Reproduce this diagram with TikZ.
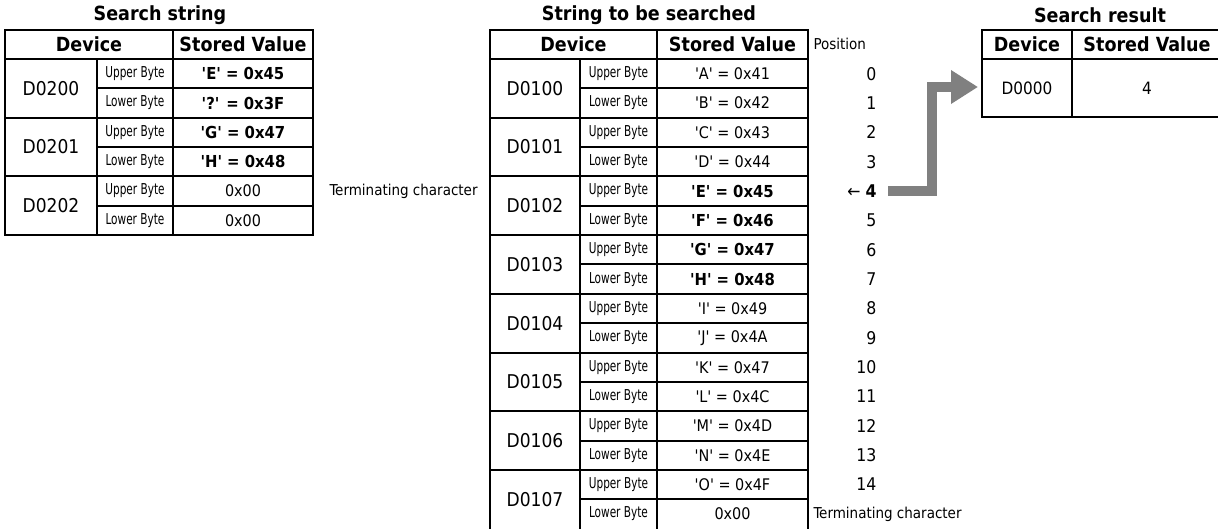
\documentclass[tikz,border=0pt]{standalone}
\usepackage{fontspec}
\setmainfont{DejaVu Sans Condensed}
\usepackage{graphicx}
\usetikzlibrary{arrows.meta}

\newcommand{\qch}[1]{\textquotesingle#1\textquotesingle}
\newcommand{\bytelabel}[1]{\scalebox{0.78}[1]{#1}}

\tikzset{
    tabline/.style={line width=2pt},
    rescell/.style={draw,line width=2pt,outer sep=0pt,inner sep=0pt},
    tabtitle/.style={font=\fontsize{19.5}{22}\selectfont\bfseries},
    headtxt/.style={font=\fontsize{19.5}{22}\selectfont\bfseries},
    devtxt/.style={font=\fontsize{19}{22}\selectfont},
    valtxt/.style={font=\fontsize{16}{19}\selectfont},
    bvaltxt/.style={font=\fontsize{16.5}{19}\selectfont\bfseries},
    bytetxt/.style={font=\fontsize{15}{17}\selectfont},
    sidenote/.style={font=\fontsize{15}{18}\selectfont},
    posnum/.style={font=\fontsize{17.5}{20}\selectfont},
    hitarrow/.style={line width=10pt,color=gray,-{Triangle[width=32pt,length=27pt]}}
}

\begin{document}
\begin{tikzpicture}[x=1pt,y=-1pt]
        \useasboundingbox (0,0) rectangle (1218,529);
        % Search string
            \node[tabtitle] (stitle) at (160,15) {Search string};
            \draw[tabline] (5,30) rectangle (313,235.1);
            \draw[tabline] (5,59) -- (313,59);
            \draw[tabline] (97,59) -- (97,235.1);
            \draw[tabline] (173,30) -- (173,235.1);
            \foreach \r in {1,3,5} \draw[tabline] (97,{59+\r*29.35}) -- (313,{59+\r*29.35});
            \foreach \r in {2,4} \draw[tabline] (5,{59+\r*29.35}) -- (313,{59+\r*29.35});
            \node[headtxt] (sdevh) at (89,44.5) {Device};
            \node[headtxt] (svalh) at (243,44.5) {Stored Value};
            \foreach \d [count=\k from 0] in {D0200,D0201,D0202}
                \node[devtxt] (sd\k) at (51,{59+(2*\k+1)*29.35}) {\d};
            \foreach \r in {0,2,4}
                \node[bytetxt] (su\r) at (135,{59+(\r+0.5)*29.35}) {\bytelabel{Upper Byte}};
            \foreach \r in {1,3,5}
                \node[bytetxt] (sl\r) at (135,{59+(\r+0.5)*29.35}) {\bytelabel{Lower Byte}};
            \foreach \r/\s/\v in {0/bvaltxt/{\qch{E} = 0x45},1/bvaltxt/{\qch{?} = 0x3F},
                                  2/bvaltxt/{\qch{G} = 0x47},3/bvaltxt/{\qch{H} = 0x48},
                                  4/valtxt/{0x00},5/valtxt/{0x00}}
                \node[\s] (sv\r) at (243,{59+(\r+0.5)*29.35}) {\v};
            \node[sidenote,anchor=west] (sterm) at (326,{59+4.5*29.35}) {Terminating character};
        % String to be searched
            \node[tabtitle] (ttitle) at (649,15) {String to be searched};
            \draw[tabline] (490,532) -- (490,30) -- (808,30) -- (808,532);
            \draw[tabline] (490,59) -- (808,59);
            \draw[tabline] (580,59) -- (580,532);
            \draw[tabline] (657,30) -- (657,532);
            \foreach \r in {1,3,...,15} \draw[tabline] (580,{59+\r*29.35}) -- (808,{59+\r*29.35});
            \foreach \r in {2,4,...,14} \draw[tabline] (490,{59+\r*29.35}) -- (808,{59+\r*29.35});
            \node[headtxt] (tdevh) at (573.5,44.5) {Device};
            \node[headtxt] (tvalh) at (732.5,44.5) {Stored Value};
            \foreach \d [count=\k from 0] in {D0100,D0101,D0102,D0103,D0104,D0105,D0106,D0107}
                \node[devtxt] (td\k) at (535,{59+(2*\k+1)*29.35}) {\d};
            \foreach \r in {0,2,...,14}
                \node[bytetxt] (tu\r) at (618.5,{59+(\r+0.5)*29.35}) {\bytelabel{Upper Byte}};
            \foreach \r in {1,3,...,15}
                \node[bytetxt] (tl\r) at (618.5,{59+(\r+0.5)*29.35}) {\bytelabel{Lower Byte}};
            \foreach \r/\s/\v in {0/valtxt/{\qch{A} = 0x41},1/valtxt/{\qch{B} = 0x42},
                                  2/valtxt/{\qch{C} = 0x43},3/valtxt/{\qch{D} = 0x44},
                                  4/bvaltxt/{\qch{E} = 0x45},5/bvaltxt/{\qch{F} = 0x46},
                                  6/bvaltxt/{\qch{G} = 0x47},7/bvaltxt/{\qch{H} = 0x48},
                                  8/valtxt/{\qch{I} = 0x49},9/valtxt/{\qch{J} = 0x4A},
                                  10/valtxt/{\qch{K} = 0x47},11/valtxt/{\qch{L} = 0x4C},
                                  12/valtxt/{\qch{M} = 0x4D},13/valtxt/{\qch{N} = 0x4E},
                                  14/valtxt/{\qch{O} = 0x4F},15/valtxt/{0x00}}
                \node[\s] (tv\r) at (732.5,{59+(\r+0.5)*29.35}) {\v};
            % Position column
                \node[sidenote,anchor=west] (poshead) at (810,44) {Position};
                \foreach \r in {0,1,2,3,5,6,7,8,9,10,11,12,13,14}
                    \node[posnum,anchor=east] (pos\r) at (880,{59+(\r+0.5)*29.35}) {\r};
                \node[posnum,anchor=east] (pos4) at (880,{59+4.5*29.35}) {←\;\textbf{4}};
                \node[sidenote,anchor=west] (tterm) at (810,{59+15.5*29.35}) {Terminating character};
        % Search result
            \node[tabtitle] (rtitle) at (1100,15) {Search result};
            \node[rescell,headtxt,minimum width=90pt,minimum height=29pt] (rdevh) at (1027,44.5) {Device};
            \node[rescell,headtxt,minimum width=150pt,minimum height=29pt] (rvalh) at (1147,44.5) {Stored Value};
            \node[rescell,font=\fontsize{17}{20}\selectfont,minimum width=90pt,minimum height=58pt] (rdev) at (1027,88) {D0000};
            \node[rescell,font=\fontsize{17}{20}\selectfont,minimum width=150pt,minimum height=58pt] (rval) at (1147,88) {4};
        % Arrow to the result
            \coordinate (a0) at ([xshift=8pt]pos4.east);
            \coordinate (bend) at (932,87);
            \draw[hitarrow,shorten >=4pt] (a0) -| (bend) -- (bend -| rdev.west);
\end{tikzpicture}
\end{document}
